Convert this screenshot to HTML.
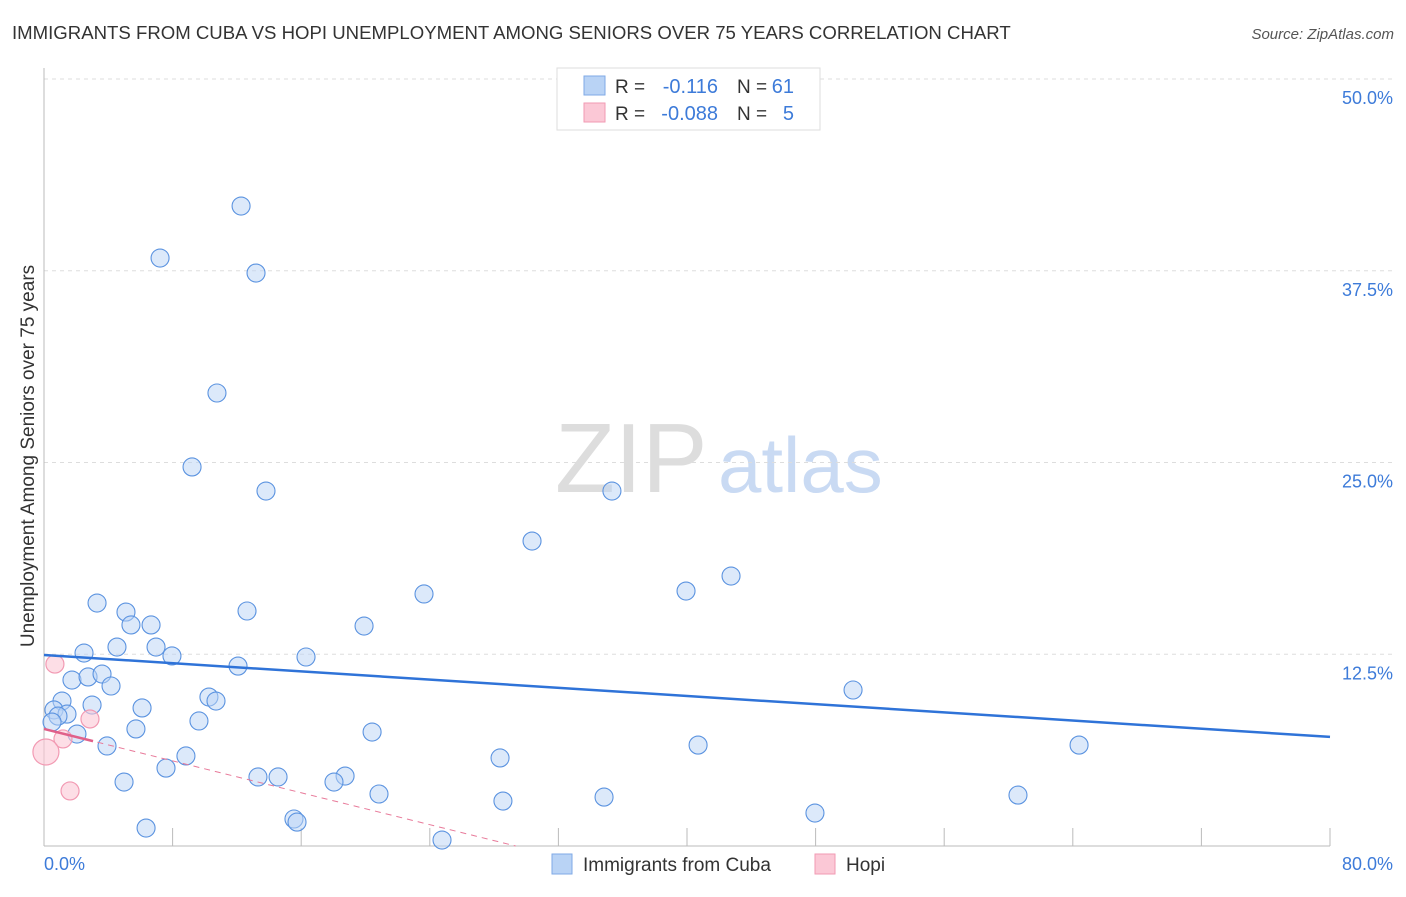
<!DOCTYPE html>
<html><head><meta charset="utf-8"><style>
body{margin:0;background:#fff;font-family:"Liberation Sans",sans-serif;}
svg text{font-family:"Liberation Sans",sans-serif;}
</style></head><body>
<svg width="1406" height="892" xmlns="http://www.w3.org/2000/svg" id="chart">
<text x="12" y="39" font-size="18.6" fill="#333">IMMIGRANTS FROM CUBA VS HOPI UNEMPLOYMENT AMONG SENIORS OVER 75 YEARS CORRELATION CHART</text>
<text x="1394" y="39" font-size="15" fill="#555" font-style="italic" text-anchor="end">Source: ZipAtlas.com</text>
<text x="34" y="456" font-size="19" fill="#333" text-anchor="middle" transform="rotate(-90 34 456)">Unemployment Among Seniors over 75 years</text>
<text x="555" y="492" font-size="98" fill="#ddd" font-family="Liberation Serif">ZIP</text>
<text x="718" y="492" font-size="78" fill="#c9daf3">atlas</text>
<g id="grid"></g><g id="axes"></g><g id="pts"></g><g id="lines"></g>
<g>
<rect x="557" y="68" width="263" height="62" fill="#fff" stroke="#ddd"/>
<rect x="584" y="76" width="21" height="19" fill="#b9d3f5" stroke="#7fa9e6"/>
<rect x="584" y="103" width="21" height="19" fill="#fbc8d6" stroke="#f29ab3"/>
<text x="615" y="93" font-size="19" fill="#333">R =</text><text x="718" y="93" font-size="20" fill="#3d7bd9" text-anchor="end">-0.116</text>
<text x="737" y="93" font-size="19" fill="#333">N =</text><text x="794" y="93" font-size="20" fill="#3d7bd9" text-anchor="end">61</text>
<text x="615" y="120" font-size="19" fill="#333">R =</text><text x="718" y="120" font-size="20" fill="#3d7bd9" text-anchor="end">-0.088</text>
<text x="737" y="120" font-size="19" fill="#333">N =</text><text x="794" y="120" font-size="20" fill="#3d7bd9" text-anchor="end">5</text>
</g>
<g>
<rect x="552" y="854" width="20" height="20" fill="#b9d3f5" stroke="#7fa9e6"/>
<text x="583" y="871" font-size="19" fill="#333">Immigrants from Cuba</text>
<rect x="815" y="854" width="20" height="20" fill="#fbc8d6" stroke="#f29ab3"/>
<text x="846" y="871" font-size="19" fill="#333">Hopi</text>
</g>
</svg>
<script>
const cubaX=[12.26,7.22,13.19,10.76,9.21,13.81,35.33,30.36,42.74,39.94,23.64,3.30,5.10,12.63,6.66,5.41,19.91,2.49,4.54,6.97,7.96,16.30,12.07,1.74,2.74,3.61,4.17,50.33,1.12,10.26,10.70,0.62,2.99,6.10,1.43,0.87,9.64,5.72,2.05,20.41,3.92,40.69,64.39,8.83,28.37,7.59,13.31,14.56,18.73,18.04,4.98,20.84,60.59,34.84,28.55,15.55,15.74,47.96,6.35,24.76,0.50];
const cubaY=[41.72,38.33,37.35,29.53,24.71,23.14,23.14,19.88,17.60,16.62,16.43,15.84,15.25,15.32,14.41,14.41,14.34,12.58,12.97,12.97,12.39,12.32,11.73,10.82,11.02,11.21,10.43,10.17,9.45,9.71,9.45,8.87,9.19,9.00,8.60,8.47,8.15,7.63,7.30,7.43,6.52,6.58,6.58,5.87,5.74,5.08,4.50,4.50,4.56,4.17,4.17,3.39,3.32,3.19,2.93,1.76,1.56,2.15,1.17,0.39,8.08];
const hopiX=[0.68,2.86,1.18,0.12,1.62];
const hopiY=[11.86,8.28,6.98,6.13,3.59];
const hopiR=[9,9,9,13,9];
const yTicks=[12.5,25,37.5,50];
const yTickLabels=["12.5%","25.0%","37.5%","50.0%"];
const cubaTrend=[12.45,7.11];
const hopiTrend=[7.63,-0.26];
const NS='http://www.w3.org/2000/svg';
const sx=v=>44+v/80*1286;
const sy=v=>846-v/50*767;
function mk(t,a,p){const e=document.createElementNS(NS,t);for(const k in a)e.setAttribute(k,a[k]);document.getElementById(p).appendChild(e);return e;}
yTicks.forEach((t,i)=>{
 const g=mk('line',{x1:44,x2:1394,y1:sy(t),y2:sy(t),stroke:'#ddd','stroke-dasharray':'4,4'},'grid');
 
 
 const l=mk('text',{x:1393,y:sy(t)+25,'font-size':18,fill:'#3d7bd9','text-anchor':'end'},'grid');
 l.textContent=yTickLabels[i];
 
 
});
mk('line',{x1:44,x2:44,y1:68,y2:846,stroke:'#bbb'},'axes');
mk('line',{x1:44,x2:1330,y1:846,y2:846,stroke:'#bbb'},'axes');
for(let i=0;i<=10;i++){const t=mk('line',{x1:sx(i*8),x2:sx(i*8),y1:828,y2:846,stroke:'#bbb'},'axes');
 
 }
const x0=mk('text',{x:44,y:870,'font-size':18,fill:'#3d7bd9'},'axes');x0.textContent='0.0%';


const x1=mk('text',{x:1393,y:870,'font-size':18,fill:'#3d7bd9','text-anchor':'end'},'axes');x1.textContent='80.0%';


cubaX.forEach((x,i)=>{const c=mk('circle',{cx:sx(x),cy:sy(cubaY[i]),r:9,fill:'#b9d3f5','fill-opacity':0.5,stroke:'#5b93e0','stroke-width':1.1},'pts');
 
 });
hopiX.forEach((x,i)=>{const c=mk('circle',{cx:sx(x),cy:sy(hopiY[i]),r:hopiR[i],fill:'#fbc8d6','fill-opacity':0.6,stroke:'#f29ab3','stroke-width':1.2},'pts');
 
 });
const bl=mk('line',{x1:sx(0),y1:sy(cubaTrend[0]),x2:sx(80),y2:sy(cubaTrend[1]),stroke:'#2f73d8','stroke-width':2.5},'lines');


const hz=-hopiTrend[0]/hopiTrend[1];
const pd=mk('line',{x1:sx(0),y1:sy(hopiTrend[0]),x2:sx(hz),y2:sy(0),stroke:'#e87a9a','stroke-width':1,'stroke-dasharray':'6,5'},'lines');


const ps=mk('line',{x1:sx(0),y1:sy(hopiTrend[0]),x2:sx(3.05),y2:sy(hopiTrend[0]+hopiTrend[1]*3.05),stroke:'#e0608a','stroke-width':2.5},'lines');


</script>
</body></html>
